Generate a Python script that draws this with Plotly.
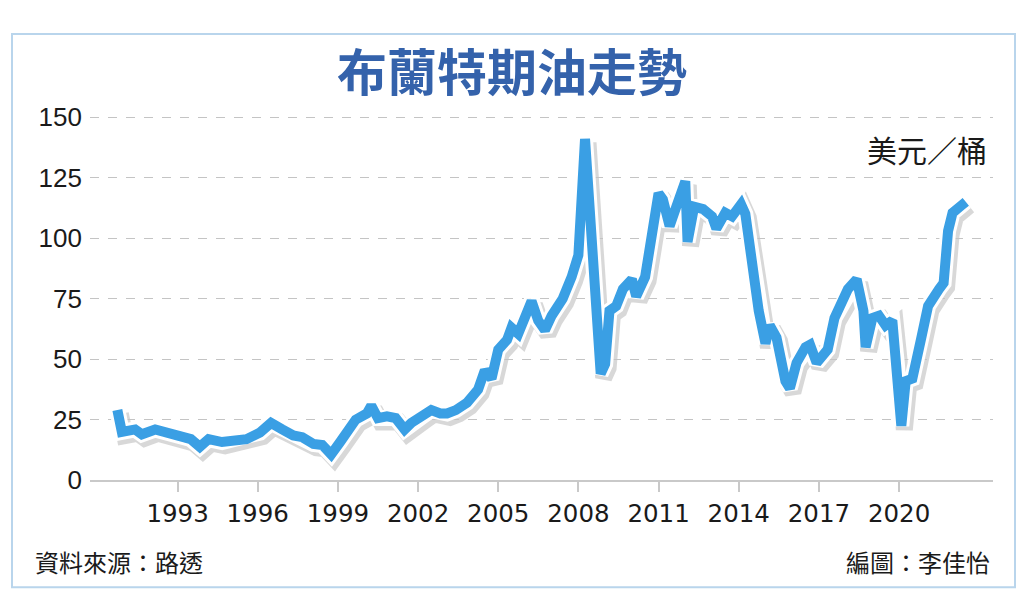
import plotly.graph_objects as go

# ---- data ----
months = [
    "1990-10", "1990-12", "1991-06", "1991-09", "1992-03", "1992-09",
    "1993-03", "1993-07", "1993-11", "1994-03", "1994-09", "1995-03",
    "1995-08", "1996-02", "1996-07", "1996-12", "1997-05", "1997-09",
    "1998-02", "1998-06", "1998-10", "1999-02", "1999-06", "1999-09",
    "2000-02", "2000-04", "2000-07", "2000-11", "2001-03", "2001-07",
    "2001-10", "2002-03", "2002-07", "2002-11", "2003-02", "2003-06",
    "2003-11", "2004-04", "2004-07", "2004-10", "2005-01", "2005-05",
    "2005-07", "2005-10", "2006-04", "2006-07", "2006-10", "2007-01",
    "2007-06", "2007-10", "2008-01", "2008-04", "2008-07", "2008-09",
    "2008-11", "2009-01", "2009-03", "2009-06", "2009-09", "2010-01",
    "2010-03", "2010-07", "2010-10", "2011-01", "2011-03", "2011-06",
    "2011-09", "2012-01", "2012-02", "2012-05", "2012-09", "2013-01",
    "2013-03", "2013-07", "2013-10", "2014-02", "2014-04", "2014-06",
    "2014-10", "2015-01", "2015-03", "2015-06", "2015-10", "2015-12",
    "2016-03", "2016-07", "2016-09", "2016-12", "2017-05", "2017-08",
    "2018-02", "2018-06", "2018-09", "2018-10", "2019-01", "2019-04",
    "2019-07", "2019-10", "2019-12", "2020-01", "2020-02", "2020-04",
    "2020-07", "2020-11", "2021-02", "2021-07", "2021-09", "2021-11",
    "2022-01", "2022-05", "2022-07",
]
brent = [
    29, 20, 21, 19, 21, 19.7,
    18.5, 17, 13.8, 17, 15.8, 17,
    17, 19.7, 23.7, 21, 18.5, 17.8,
    15, 14.6, 10.7, 15.8, 21, 25,
    27.6, 30.8, 25.7, 26.4, 25.7, 21,
    23.7, 26.4, 29, 27.6, 27.6, 29,
    32, 37.5, 45.4, 42, 54, 58,
    63, 60.5, 74, 66, 62, 68,
    75, 84, 93, 141, 100, 62,
    44, 48, 70, 72, 79, 83,
    76, 84, 101, 118.5, 116, 105,
    113, 123.5, 98.5, 113, 112, 109,
    104, 110.5, 109, 114, 110, 96,
    70, 56.5, 64, 59, 41, 38,
    48.5, 55, 56, 48.5, 54, 67,
    79, 83, 70, 55, 67, 68,
    64, 66, 48.5, 30, 22.5, 41,
    42, 59, 72, 79, 81.5, 103,
    110.5, 113.5, 115,
]
year_ticks = ["1993-01-01", "1996-01-01", "1999-01-01", "2002-01-01", "2005-01-01",
              "2008-01-01", "2011-01-01", "2014-01-01", "2017-01-01", "2020-01-01"]
year_labels = ["1993", "1996", "1999", "2002", "2005", "2008", "2011", "2014", "2017", "2020"]
y_ticks = [0, 25, 50, 75, 100, 125, 150]

title_text = "布蘭特期油走勢"
unit_text = "美元／桶"
source_text = "資料來源：路透"
editor_text = "編圖：李佳怡"

# ---- layout geometry ----
W, H = 1024, 609
x_range = ["1989-09-22", "2023-07-08"]
y_range = [0, 151]
xd = [90 / W, 993 / W]
yd = [(H - 490) / H, (H - 107.5) / H]
sdx, sdy = 3 / W, 4 / H   # drop-shadow offset

fig = go.Figure()

# soft shadow (on offset, hidden axes)
fig.add_trace(go.Scatter(
    x=months, y=brent, mode="lines", xaxis="x", yaxis="y",
    line=dict(color="rgba(60,60,60,0.2)", width=17),
    hoverinfo="skip", showlegend=False,
))
# white outline
fig.add_trace(go.Scatter(
    x=months, y=brent, mode="lines", xaxis="x2", yaxis="y2",
    line=dict(color="white", width=16),
    hoverinfo="skip", showlegend=False,
))
# main blue line
fig.add_trace(go.Scatter(
    x=months, y=brent, mode="lines", xaxis="x2", yaxis="y2",
    line=dict(color="#3a9fe4", width=10),
    showlegend=False,
))

fig.update_layout(
    width=W, height=H,
    margin=dict(l=0, r=0, t=0, b=0),
    paper_bgcolor="white",
    plot_bgcolor="rgba(0,0,0,0)",
    xaxis=dict(domain=[xd[0] + sdx, xd[1] + sdx], range=x_range, type="date",
               visible=False, anchor="y"),
    yaxis=dict(domain=[yd[0] - sdy, yd[1] - sdy], range=y_range,
               visible=False, anchor="x"),
    xaxis2=dict(domain=xd, range=x_range, type="date", anchor="y2",
                tickvals=year_ticks, ticktext=year_labels,
                showgrid=False, zeroline=False,
                showline=True, linecolor="#c9c9c9", linewidth=2,
                ticks="outside", ticklen=10, tickwidth=2, tickcolor="#c9c9c9",
                tickfont=dict(size=24.5, family="DejaVu Sans, sans-serif", color="#1a1a1a")),
    yaxis2=dict(domain=yd, range=y_range, anchor="x2",
                tickvals=y_ticks, ticktext=[str(v) for v in y_ticks],
                showgrid=True, gridcolor="#c4c4c4", gridwidth=1, griddash="dash",
                zeroline=False, showline=False, ticks="",
                ticklabelstandoff=7,
                tickfont=dict(size=26, family="Liberation Sans, Arial, sans-serif", color="#1a1a1a")),
    shapes=[dict(type="rect", xref="paper", yref="paper",
                 x0=12 / W, x1=1015 / W, y0=(H - 602) / H, y1=(H - 23) / H,
                 line=dict(color="#b9d5ec", width=2), layer="below")],
    annotations=[
        dict(text=title_text, xref="paper", yref="paper", x=0.5, y=(H - 60) / H,
             xanchor="center", yanchor="middle", showarrow=False,
             font=dict(family="Noto Sans CJK TC", size=50, color="#3462ab", weight="bold")),
        dict(text=unit_text, xref="paper", yref="paper", x=989 / W, y=(H - 143) / H,
             xanchor="right", yanchor="middle", showarrow=False,
             font=dict(family="Noto Sans CJK TC", size=30, color="#1a1a1a")),
        dict(text=source_text, xref="paper", yref="paper", x=33 / W, y=(H - 575) / H,
             xanchor="left", yanchor="middle", showarrow=False,
             font=dict(family="Noto Sans CJK TC", size=24, color="#1a1a1a")),
        dict(text=editor_text, xref="paper", yref="paper", x=992 / W, y=(H - 575) / H,
             xanchor="right", yanchor="middle", showarrow=False,
             font=dict(family="Noto Sans CJK TC", size=24, color="#1a1a1a")),
    ],
)

fig.write_html(
    "out.html",
    config={"responsive": False, "displayModeBar": False},
    post_script="document.body.style.margin='0';document.body.style.overflow='hidden';",
)
